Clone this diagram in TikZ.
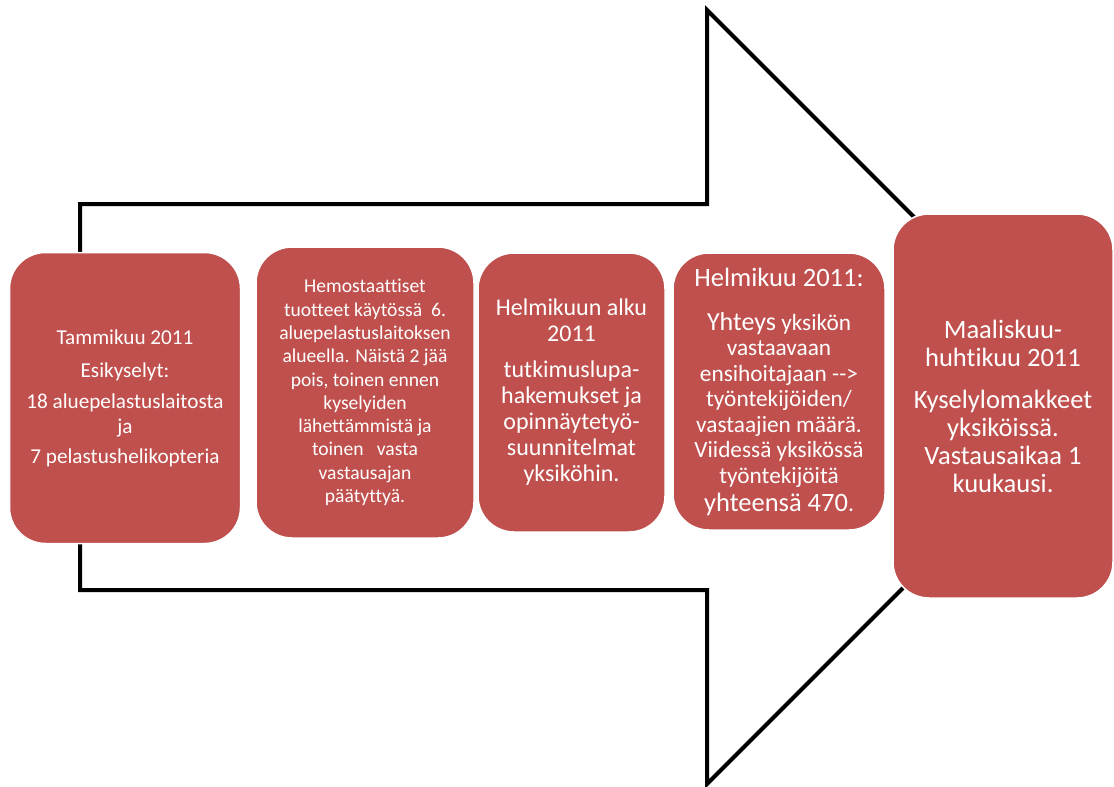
\documentclass[tikz,border=0pt]{standalone}
\usepackage{fontspec}
\setmainfont{Carlito}[Ligatures=NoCommon]
\usepackage{xcolor}
\usepackage{tikz}
\usetikzlibrary{calc}
\usetikzlibrary{positioning}
\definecolor{boxred}{HTML}{C0504D}

\tikzset{
  stage/.style={fill=boxred, draw=white, line width=1.5pt, rounded corners=36pt,
    align=center, text=white, inner sep=0pt},
  bigarrow/.style={draw=black, line width=4pt, line join=miter}
}

\begin{document}
\begin{tikzpicture}[x=1pt, y=-1pt]
    \useasboundingbox (0,0) rectangle (1114,787);
    % the big arrow behind the boxes
    \draw[bigarrow] (80,204) -- (707,204) -- (707,10) -- (1094,397)
      -- (707,784) -- (707,590) -- (80,590) -- cycle;
    \node[stage, minimum width=231pt, minimum height=291pt,
      font=\fontsize{21.2}{24.7}\selectfont] (A) at (125,398)
      {Tammikuu 2011\\[8.3pt]
       Esikyselyt:\\[6.3pt]
       18 aluepelastuslaitosta\\
       ja\\[5.3pt]
       7 pelastushelikopteria};
    \node[stage, minimum width=218pt, minimum height=291pt,
      font=\fontsize{19.6}{23.3}\selectfont] (B) at (365,392.5)
      {Hemostaattiset\\
       tuotteet käytössä\ \ 6.\\
       aluepelastuslaitoksen\\
       alueella. Näistä 2 jää\\
       pois, toinen ennen\\
       kyselyiden\\
       lähettämmistä ja\\
       toinen\ \ \ vasta\\
       vastausajan\\
       päätyttyä.};
    \node[stage, minimum width=187pt, minimum height=279pt,
      font=\fontsize{24}{26}\selectfont] (C) at (571.5,392.5)
      {Helmikuun alku\\
       2011\\[10pt]
       tutkimuslupa-\\
       hakemukset ja\\
       opinnäytetyö-\\
       suunnitelmat\\
       yksiköhin.};
    \node[stage, minimum width=212pt, minimum height=277pt,
      font=\fontsize{23.3}{25.5}\selectfont] (D) at (779,391.5)
      {{\fontsize{26.5}{25.5}\selectfont Helmikuu 2011:}\\[18.5pt]
       {\fontsize{26}{25.5}\selectfont Yhteys} yksikön\\
       vastaavaan\\
       ensihoitajaan -{}->\\
       työntekijöiden/\\
       vastaajien määrä.\\
       Viidessä yksikössä\\
       työntekijöitä\\[2.5pt]
       {\fontsize{26.5}{25.5}\selectfont yhteensä 470}.};
    \node[stage, minimum width=220pt, minimum height=384pt,
      font=\fontsize{26.5}{28}\selectfont] (E) at (1003,406)
      {Maaliskuu-\\
       huhtikuu 2011\\[14pt]
       Kyselylomakkeet\\
       yksiköissä.\\
       Vastausaikaa 1\\
       kuukausi.};
\end{tikzpicture}
\end{document}
